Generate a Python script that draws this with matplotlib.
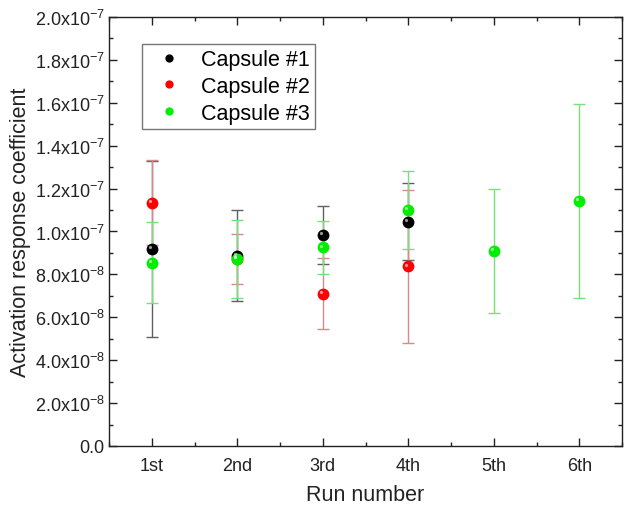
import matplotlib
matplotlib.use("Agg")
import matplotlib.pyplot as plt
import matplotlib.transforms as mtransforms
from matplotlib.ticker import MultipleLocator, FuncFormatter

plt.rcParams["font.family"] = ["Liberation Sans", "DejaVu Sans"]
plt.rcParams["mathtext.fontset"] = "custom"
plt.rcParams["mathtext.rm"] = "Liberation Sans"

runs = [1, 2, 3, 4, 5, 6]
run_labels = ["1st", "2nd", "3rd", "4th", "5th", "6th"]

cap1_x = [1, 2, 3, 4]
cap1_y = [0.918e-7, 0.887e-7, 0.984e-7, 1.046e-7]
cap1_err = [0.41e-7, 0.213e-7, 0.136e-7, 0.179e-7]

cap2_x = [1, 2, 3, 4]
cap2_y = [1.135e-7, 0.872e-7, 0.71e-7, 0.837e-7]
cap2_err = [0.20e-7, 0.117e-7, 0.166e-7, 0.358e-7]

cap3_x = [1, 2, 3, 4, 5, 6]
cap3_y = [0.855e-7, 0.873e-7, 0.926e-7, 1.10e-7, 0.909e-7, 1.142e-7]
cap3_err = [0.187e-7, 0.182e-7, 0.125e-7, 0.181e-7, 0.291e-7, 0.451e-7]

series = [
    ("Capsule #1", cap1_x, cap1_y, cap1_err, "#000000", "#606060"),
    ("Capsule #2", cap2_x, cap2_y, cap2_err, "#ff0000", "#d88a8a"),
    ("Capsule #3", cap3_x, cap3_y, cap3_err, "#00ee00", "#78e078"),
]

fig = plt.figure(figsize=(6.38, 5.06), dpi=100)
ax = fig.add_axes([109 / 638, 1 - 447 / 506, (622 - 109) / 638, (447 - 18) / 506])

# small glint offset up-left to give the markers a shaded look
glint = mtransforms.offset_copy(ax.transData, fig=fig, x=-1.3, y=1.3, units="points")

for label, x, y, err, color, ecolor in series:
    ax.errorbar(x, y, yerr=err, fmt="none", ecolor=ecolor, elinewidth=1.0,
                capsize=4, capthick=1.0, zorder=2)
    ax.plot(x, y, "o", color=color, markersize=8.5, markeredgewidth=0,
            label=label, zorder=3, linestyle="none")
    ax.plot(x, y, "o", color="white", markersize=2.3, markeredgewidth=0,
            alpha=0.6, zorder=4, linestyle="none", transform=glint)

ax.set_xlim(0.5, 6.5)
ax.set_ylim(0, 2.0e-7)
ax.set_xticks(runs)
ax.set_xticklabels(run_labels)
ax.xaxis.set_minor_locator(MultipleLocator(0.5))
ax.yaxis.set_major_locator(MultipleLocator(2e-8))
ax.yaxis.set_minor_locator(MultipleLocator(1e-8))


def sci_fmt(v, pos):
    if abs(v) < 1e-12:
        return "0.0"
    exp = int(f"{v:e}".split("e")[1])
    mant = v / 10 ** exp
    return r"$\mathregular{%.1fx10^{%d}}$" % (mant, exp)


ax.yaxis.set_major_formatter(FuncFormatter(sci_fmt))

ax.tick_params(which="both", direction="in", top=True, right=True,
               labelsize=13, colors="#222222", labelcolor="#222222")
ax.tick_params(which="major", length=6, width=1.0)
ax.tick_params(which="minor", length=3, width=1.0)
ax.tick_params(axis="x", pad=8)
ax.tick_params(axis="y", pad=3)
for spine in ax.spines.values():
    spine.set_linewidth(1.0)
    spine.set_edgecolor("#222222")

ax.set_xlabel("Run number", fontsize=15.5, color="#222222", labelpad=7)
ax.set_ylabel("Activation response coefficient", fontsize=15.5, color="#222222", labelpad=3)

leg = ax.legend(loc="upper left", bbox_to_anchor=(0.064, 0.937), borderaxespad=0,
                fontsize=15.5, frameon=True, fancybox=False, handletextpad=0.5,
                borderpad=0.25, labelspacing=0.26, handlelength=2.0,
                markerscale=0.7)
leg.get_frame().set_edgecolor("#555555")
leg.get_frame().set_linewidth(1.0)

fig.savefig("out.png", dpi=100)
